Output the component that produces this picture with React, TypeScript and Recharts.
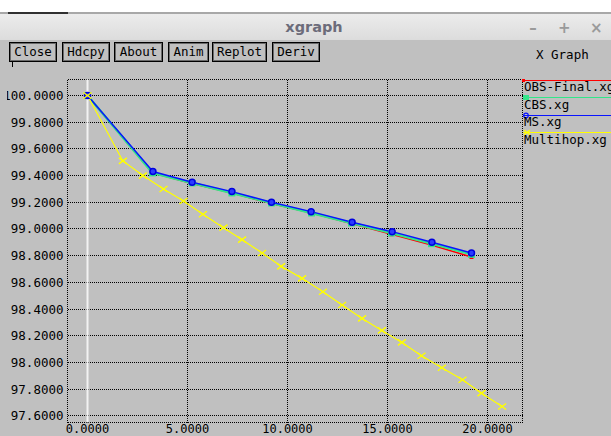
import React from 'react';
import { LineChart, Line, XAxis, YAxis, CartesianGrid, ReferenceLine } from 'recharts';

// ---- data ----
const obsX = [0, 3.25, 5.23, 7.22, 9.2, 11.2, 13.2, 15.2, 17.2, 19.2];
const obsY = [100, 99.42, 99.34, 99.27, 99.19, 99.12, 99.04, 98.96, 98.88, 98.79];
const cbsX = [0, 3.25, 5.23, 7.22, 9.2, 11.2, 13.2, 15.2, 17.2, 19.2];
const cbsY = [100, 99.42, 99.345, 99.27, 99.195, 99.12, 99.045, 98.97, 98.89, 98.81];
const msX = [0, 3.27, 5.23, 7.22, 9.2, 11.18, 13.23, 15.23, 17.22, 19.2];
const msY = [100, 99.43, 99.35, 99.28, 99.2, 99.13, 99.05, 98.98, 98.9, 98.82];
const mhX = [0, 1.77, 2.77, 3.8, 4.8, 5.77, 6.8, 7.73, 8.73, 9.68, 10.73, 11.77, 12.73, 13.73, 14.72, 15.72, 16.7, 17.72, 18.75, 19.7, 20.73];
const mhY = [100, 99.51, 99.4, 99.3, 99.21, 99.11, 99.01, 98.92, 98.82, 98.72, 98.63, 98.53, 98.43, 98.33, 98.24, 98.15, 98.05, 97.96, 97.87, 97.77, 97.67];

const xTicks = [0, 5, 10, 15, 20];
const yTicks = [97.6, 97.8, 98.0, 98.2, 98.4, 98.6, 98.8, 99.0, 99.2, 99.4, 99.6, 99.8, 100.0];
const xDomain: [number, number] = [-1, 21.75];
const yDomain: [number, number] = [97.55, 100.12];

const seriesNames = ['OBS-Final.xg', 'CBS.xg', 'MS.xg', 'Multihop.xg'];
const buttonLabels = ['Close', 'Hdcpy', 'About', 'Anim', 'Replot', 'Deriv'];

const zip = (xs: number[], ys: number[]) => xs.map((x, i) => ({ x, y: ys[i] }));
const obsData = zip(obsX, obsY);
const cbsData = zip(cbsX, cbsY);
const msData = zip(msX, msY);
const mhData = zip(mhX, mhY);

const RED = '#ff0000';
const GREEN = '#33e68a';
const BLUE = '#0a14ff';
const YELLOW = '#ffff00';
const MONO = '"DejaVu Sans Mono", "Liberation Mono", monospace';

const RedDot = (p: any) => (
  <rect key={`r${p.index}`} x={p.cx - 2} y={p.cy - 2} width={4} height={4} fill={RED} />
);
const GreenDot = (p: any) => (
  <rect key={`g${p.index}`} x={p.cx - 3.5} y={p.cy - 3} width={7} height={6.5} fill={GREEN} />
);
const BlueDot = (p: any) => (
  <circle key={`b${p.index}`} cx={p.cx} cy={p.cy} r={3} fill="#2a3cff" stroke="#0000e0" strokeWidth={1.5} />
);
const YellowDot = (p: any) => (
  <g key={`y${p.index}`} stroke={YELLOW} strokeWidth={1.4}>
    <line x1={p.cx - 4} y1={p.cy - 3} x2={p.cx + 4} y2={p.cy + 3} />
    <line x1={p.cx - 4} y1={p.cy + 3} x2={p.cx + 4} y2={p.cy - 3} />
  </g>
);

const YTick = (p: any) => (
  <text x={p.x} y={p.y} textAnchor="end" dominantBaseline="central" fontFamily={MONO} fontSize={12.5} fill="#000">
    {Number(p.payload.value).toFixed(4)}
  </text>
);
const XTick = (p: any) => (
  <text x={p.x} y={p.y} textAnchor="middle" dominantBaseline="central" fontFamily={MONO} fontSize={12} fill="#000">
    {Number(p.payload.value).toFixed(4)}
  </text>
);

const buttonBoxes = [
  [9, 57], [62, 110], [114, 163], [168, 209], [212, 267], [272, 320],
];

export default function App() {
  const dotted = { stroke: '#000', strokeDasharray: '1 1', strokeWidth: 1, shapeRendering: 'crispEdges' as const };
  return (
    <div style={{ position: 'fixed', left: 0, top: 0, width: 611, height: 436, background: '#c0c0c0', overflow: 'hidden', fontFamily: MONO }}>
      {/* top strip */}
      <div style={{ position: 'absolute', left: 0, top: 0, width: 611, height: 12, background: '#ffffff' }} />
      <div style={{ position: 'absolute', left: 0, top: 12, width: 611, height: 2, background: '#a8a8a8' }} />
      <div style={{ position: 'absolute', left: 8, top: 12, width: 60, height: 2, background: '#303030' }} />
      {/* title bar */}
      <div style={{ position: 'absolute', left: 0, top: 14, width: 611, height: 26, background: 'linear-gradient(#ececec, #dcdcdc)' }} />
      <div style={{ position: 'absolute', left: 0, top: 14, width: 611, height: 26, textAlign: 'center', lineHeight: '26px', fontFamily: '"DejaVu Sans", sans-serif', fontWeight: 'bold', fontSize: 14.5, color: '#6c6c7a', paddingLeft: 17, boxSizing: 'border-box' }}>xgraph</div>
      {['–', '+', '×'].map((c, i) => (
        <div key={c} style={{ position: 'absolute', left: [527, 558, 590][i], top: 18, width: 12, textAlign: 'center', fontFamily: '"DejaVu Sans", sans-serif', fontWeight: 'bold', fontSize: 15, color: '#9a9a9a', lineHeight: '20px' }}>{c}</div>
      ))}
      {/* buttons */}
      {buttonLabels.map((b, i) => (
        <div key={b} style={{ position: 'absolute', left: buttonBoxes[i][0], top: 42, width: buttonBoxes[i][1] - buttonBoxes[i][0], height: 20, boxSizing: 'border-box', border: '1px solid #000', boxShadow: 'inset 0 0 0 1px #6a6a6a', textAlign: 'center', lineHeight: '18px', fontFamily: MONO, fontSize: 12.5, color: '#000' }}>{b}</div>
      ))}
      <div style={{ position: 'absolute', left: 12, top: 62, width: 1, height: 5, background: '#000' }} />
      <div style={{ position: 'absolute', left: 536, top: 47, fontFamily: MONO, fontSize: 12.5, color: '#000', lineHeight: '16px', whiteSpace: 'nowrap' }}>X Graph</div>
      {/* chart */}
      <div style={{ position: 'absolute', left: 7, top: 40 }}>
        <LineChart width={604} height={396} margin={{ top: 39.5, right: 88.5, bottom: 0, left: 0 }}>
          <CartesianGrid {...dotted} />
          <XAxis type="number" dataKey="x" domain={xDomain} ticks={xTicks} allowDataOverflow axisLine={false} tickLine={false} tickSize={0} tickMargin={6.5} height={13.5} tick={<XTick />} interval={0} />
          <YAxis type="number" dataKey="y" domain={yDomain} ticks={yTicks} allowDataOverflow axisLine={false} tickLine={false} tickSize={0} tickMargin={4} width={60.5} tick={<YTick />} interval={0} />
          <ReferenceLine x={xDomain[0]} {...dotted} />
          <ReferenceLine x={xDomain[1]} {...dotted} />
          <ReferenceLine y={yDomain[0]} {...dotted} />
          <ReferenceLine y={yDomain[1]} {...dotted} />
          <ReferenceLine x={0} stroke="#f2f2f2" strokeWidth={2} />
          <Line data={obsData} dataKey="y" stroke={RED} strokeWidth={1.5} dot={RedDot} isAnimationActive={false} name={seriesNames[0]} />
          <Line data={cbsData} dataKey="y" stroke={GREEN} strokeWidth={2.5} dot={GreenDot} isAnimationActive={false} name={seriesNames[1]} />
          <Line data={msData} dataKey="y" stroke={BLUE} strokeWidth={1.5} dot={BlueDot} isAnimationActive={false} name={seriesNames[2]} />
          <Line data={mhData} dataKey="y" stroke={YELLOW} strokeWidth={1.2} dot={YellowDot} isAnimationActive={false} name={seriesNames[3]} />
        </LineChart>
      </div>
      {/* legend */}
      <svg style={{ position: 'absolute', left: 0, top: 0 }} width={611} height={436}>
        <line x1={523} y1={80.5} x2={611} y2={80.5} stroke={RED} strokeWidth={1} />
        <rect x={522} y={79} width={3} height={3} fill={RED} />
        <line x1={523} y1={97.5} x2={611} y2={97.5} stroke={GREEN} strokeWidth={1} />
        <rect x={523} y={95} width={6} height={5} fill={GREEN} />
        <line x1={523} y1={115.5} x2={611} y2={115.5} stroke={BLUE} strokeWidth={1} />
        <circle cx={526} cy={115.5} r={2.3} fill="none" stroke={BLUE} strokeWidth={1.2} />
        <line x1={523} y1={132.5} x2={611} y2={132.5} stroke={YELLOW} strokeWidth={1} />
        <g stroke={YELLOW} strokeWidth={1.2}>
          <line x1={524} y1={130} x2={530} y2={135} />
          <line x1={524} y1={135} x2={530} y2={130} />
        </g>
        {seriesNames.map((n, i) => (
          <text key={n} x={524} y={[86, 104.5, 121.5, 139][i]} dominantBaseline="central" fontFamily={MONO} fontSize={12.5} fill="#000">{n}</text>
        ))}
      </svg>
    </div>
  );
}
